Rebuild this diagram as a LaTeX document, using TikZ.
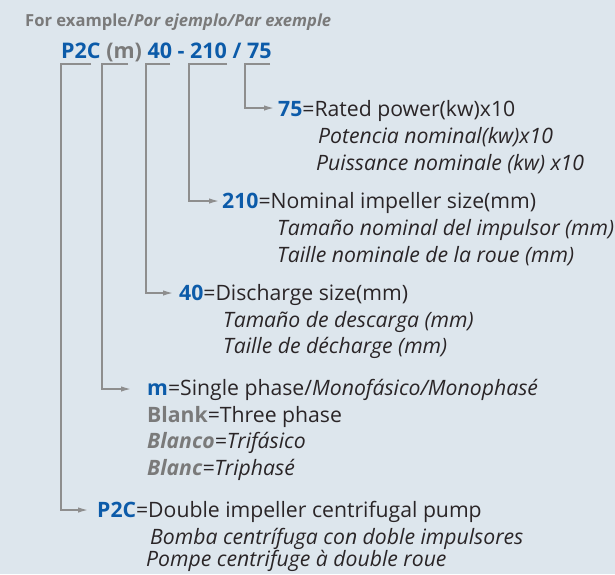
\documentclass[tikz,border=0pt]{standalone}
\usepackage{fontspec}
\setmainfont{Open Sans}
\usetikzlibrary{arrows.meta}
\definecolor{bg}{HTML}{DDE6ED}
\definecolor{pblue}{HTML}{0C5BA9}
\definecolor{pgray}{HTML}{7A7A7A}
\definecolor{ptext}{HTML}{2A2527}
\definecolor{pline}{HTML}{8E8E8E}
\tikzset{
  lbl/.style={anchor=base west, inner sep=0pt, text=ptext, font=\fontsize{21.2}{24}\selectfont},
  hdr/.style={anchor=base west, inner sep=0pt, font=\fontsize{21.5}{24}\selectfont\bfseries},
  conn/.style={draw=pline, line width=1.4pt, -{Latex[length=10pt,width=5.5pt]}},
}
\newcommand{\bl}[1]{\textcolor{pblue}{\textbf{#1}}}
\newcommand{\gr}[1]{\textcolor{pgray}{\textbf{#1}}}
\begin{document}
\begin{tikzpicture}[x=1pt,y=-1pt]
\fill[bg] (0,0) rectangle (615,574);
\useasboundingbox (0,0) rectangle (615,574);
% title
\node[anchor=base west, inner sep=0pt, text=pgray, font=\fontsize{16.6}{18}\selectfont\bfseries] (title) at (25,26) {For example/\textit{Por ejemplo/Par exemple}};
% header
\node[hdr] (header) at (61,58) {\textcolor{pblue}{P2C} \textcolor{pgray}{(m)} \textcolor{pblue}{40 - 210 / 75}};
% bracket start points
\coordinate (s1) at (91,64);  \coordinate (c1) at (61,64);
\coordinate (s2) at (128,64); \coordinate (c2) at (102,64);
\coordinate (s3) at (170,64); \coordinate (c3) at (146,64);
\coordinate (s4) at (227,64); \coordinate (c4) at (189,64);
\coordinate (s5) at (270,64); \coordinate (c5) at (245,64);
% arrow tips
\coordinate (e5) at (274,108);
\coordinate (e4) at (219,201);
\coordinate (e3) at (173,293);
\coordinate (e2) at (131,389);
\coordinate (e1) at (88,510);
% 75
\node[lbl] (n75) at (278,116) {\bl{75}=Rated power(kw)x10};
\node[lbl] (n75b) at (318,143) {\itshape Potencia nominal(kw)x10};
\node[lbl] (n75c) at (316,170) {\itshape Puissance nominale (kw) x10};
% 210
\node[lbl] (n210) at (222,208) {\bl{210}=Nominal impeller size(mm)};
\node[lbl] (n210b) at (277,235) {\itshape Tamaño nominal del impulsor (mm)};
\node[lbl] (n210c) at (277,262) {\itshape Taille nominale de la roue (mm)};
% 40
\node[lbl] (n40) at (179,300) {\bl{40}=Discharge size(mm)};
\node[lbl] (n40b) at (223,327) {\itshape Tamaño de descarga (mm)};
\node[lbl] (n40c) at (223,353) {\itshape Taille de décharge (mm)};
% m
\node[lbl] (nm) at (147,395) {\bl{m}=Single phase/\textit{Monofásico/Monophasé}};
\node[lbl] (nm2) at (147,422) {\gr{Blank}=Three phase};
\node[lbl] (nm3) at (147,448) {\itshape\gr{Blanco}=Trifásico};
\node[lbl] (nm4) at (147,475) {\itshape\gr{Blanc}=Triphasé};
% P2C
\node[lbl] (np) at (97,517) {\bl{P2C}=Double impeller centrifugal pump};
\node[lbl] (npb) at (150,544) {\itshape Bomba centrífuga con doble impulsores};
\node[lbl] (npc) at (146,566) {\itshape Pompe centrifuge à double roue};
% connectors
\draw[conn] (s5) -- (c5) |- (e5);
\draw[conn] (s4) -- (c4) |- (e4);
\draw[conn] (s3) -- (c3) |- (e3);
\draw[conn] (s2) -- (c2) |- (e2);
\draw[conn] (s1) -- (c1) |- (e1);
\end{tikzpicture}
\end{document}
